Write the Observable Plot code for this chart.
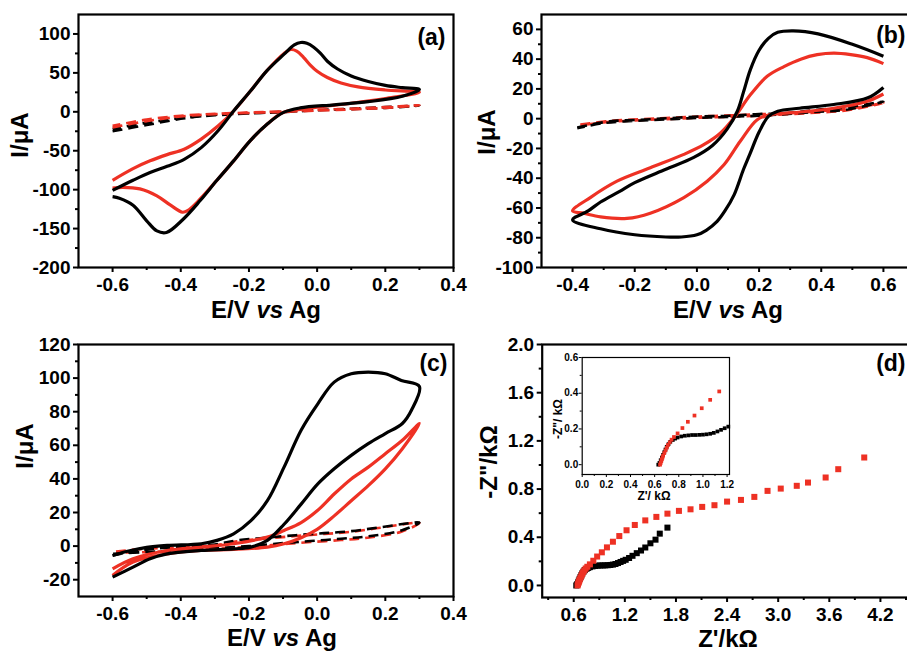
<!DOCTYPE html>
<html><head><meta charset="utf-8">
<script src="https://cdn.jsdelivr.net/npm/d3@7"></script>
<script src="https://cdn.jsdelivr.net/npm/@observablehq/plot@0.6"></script>
<style>
html,body{margin:0;padding:0;background:#fff;}
body{width:907px;height:654px;overflow:hidden;position:relative;font-family:"Liberation Sans",Arial,sans-serif;}
.p{position:absolute;}
</style></head><body>
<div id="pa" class="p" style="left:0;top:0;width:460px;height:320px"></div>
<div id="pb" class="p" style="left:450px;top:0;width:469px;height:320px"></div>
<div id="pc" class="p" style="left:0;top:320px;width:460px;height:334px"></div>
<div id="pd" class="p" style="left:450px;top:320px;width:469px;height:334px"></div>
<div id="pi" class="p" style="left:545px;top:345px;width:189px;height:160px"></div>
<script>
// ---------- DATA: [E (V), I (µA)] ----------
const aBlack = [[-0.6,-101],[-0.54,-88],[-0.49,-78],[-0.44,-70],[-0.39,-61],[-0.34,-46],[-0.29,-24],[-0.245,1],[-0.195,27],[-0.147,53],[-0.097,74],[-0.067,86],[-0.048,89],[-0.03,88],[-0.01,83],[0.01,75],[0.03,65],[0.06,55],[0.1,46],[0.15,39],[0.2,34],[0.25,31],[0.3,28.5],
  [0.25,20],[0.15,13],[0.05,9],[-0.05,5],[-0.1,-1],[-0.147,-16],[-0.196,-37],[-0.245,-63],[-0.294,-88],[-0.343,-114],[-0.393,-138],[-0.442,-155],[-0.47,-153],[-0.5,-140],[-0.54,-120],[-0.58,-111],[-0.6,-109]];
const aRed = [[-0.6,-88],[-0.54,-73],[-0.49,-63],[-0.44,-55],[-0.39,-48],[-0.34,-35],[-0.29,-18],[-0.245,1],[-0.195,27],[-0.147,53],[-0.097,75],[-0.077,80],[-0.06,78],[-0.04,70],[-0.02,60],[0.0,52],[0.03,44],[0.07,37],[0.12,32],[0.2,28],[0.3,25],
  [0.2,17],[0.1,11],[0.0,6],[-0.05,3],[-0.1,-1],[-0.147,-16],[-0.196,-37],[-0.245,-63],[-0.294,-88],[-0.343,-112],[-0.38,-127],[-0.395,-129],[-0.43,-120],[-0.47,-108],[-0.52,-99],[-0.57,-97],[-0.6,-98]];
const aBlackDash = [[-0.6,-25],[-0.5,-17],[-0.4,-9],[-0.3,-4],[-0.2,-2],[-0.1,0],[0.0,2],[0.1,3.5],[0.2,5],[0.3,8],
  [0.2,6],[0.1,4],[0.0,2],[-0.1,-0.5],[-0.2,-2],[-0.3,-4.5],[-0.4,-8],[-0.5,-14],[-0.6,-22]];
const aRedDash = [[-0.6,-20],[-0.5,-12],[-0.4,-6],[-0.3,-3],[-0.2,-1.5],[-0.1,0],[0.0,1.5],[0.1,3],[0.2,5],[0.3,8.5],
  [0.2,6],[0.1,4],[0.0,2.5],[-0.1,0.5],[-0.2,-1],[-0.3,-2.5],[-0.4,-5],[-0.5,-10],[-0.6,-18]];

const bBlack = [[0.6,21],[0.55,14],[0.44,9.5],[0.33,7],[0.26,5],[0.23,1.5],[0.2,-9],[0.17,-24],[0.15,-34],[0.12,-51],[0.09,-62],[0.065,-69],[0.03,-75],[0.0,-78],[-0.05,-79.5],[-0.1,-79.5],[-0.2,-78],[-0.31,-74],[-0.4,-68],
  [-0.35,-62],[-0.31,-56],[-0.25,-49],[-0.2,-43],[-0.1,-34],[-0.01,-26],[0.05,-18],[0.097,-7],[0.13,5],[0.15,18],[0.172,33],[0.2,46],[0.23,54],[0.26,58],[0.31,59],[0.39,57],[0.5,50],[0.6,42]];
const bRed = [[0.6,16.6],[0.548,11.7],[0.44,7],[0.333,4.5],[0.237,2.7],[0.194,-0.7],[0.14,-15],[0.087,-31],[0.033,-42],[-0.042,-53],[-0.15,-63.5],[-0.225,-67],[-0.31,-66],[-0.365,-63.5],[-0.4,-62],
  [-0.343,-53],[-0.257,-42],[-0.15,-33],[-0.042,-24],[0.022,-17.5],[0.076,-9.6],[0.119,0.4],[0.172,16],[0.226,28.5],[0.28,35],[0.334,40],[0.387,43],[0.441,44],[0.495,43],[0.548,41],[0.6,37]];
const bBlackDash = [[-0.385,-5.9],[-0.28,-1.8],[-0.18,-0.7],[-0.085,0.4],[0.01,1.5],[0.108,2],[0.2,3.1],[0.29,3.8],[0.387,6],[0.483,7.6],[0.6,11.5],
  [0.48,6],[0.38,4.5],[0.28,3],[0.2,2],[0.1,1.2],[0.0,0.5],[-0.1,-0.5],[-0.2,-1.5],[-0.3,-3],[-0.385,-6.5]];
const bRedDash = [[-0.375,-4],[-0.28,-1.5],[-0.18,-0.3],[-0.085,0.6],[0.01,1.5],[0.108,2.2],[0.2,3],[0.29,3.5],[0.387,5],[0.483,6.5],[0.6,10.5],
  [0.48,5.5],[0.38,4],[0.28,2.8],[0.2,2],[0.1,1.2],[0.0,0.6],[-0.1,-0.3],[-0.2,-1.2],[-0.3,-2.5],[-0.375,-4.5]];

const cBlack = [[-0.6,-18.5],[-0.54,-12.5],[-0.49,-7.5],[-0.44,-4.6],[-0.34,-2.6],[-0.245,-1.6],[-0.195,-0.6],[-0.146,3.4],[-0.097,13],[-0.047,25],[0.002,37],[0.05,46],[0.1,54],[0.15,61],[0.2,67],[0.25,73],[0.277,81],[0.3,95],
  [0.247,98.6],[0.2,102.6],[0.15,103.6],[0.1,102.6],[0.05,97.6],[0.002,84.7],[-0.047,69],[-0.097,47],[-0.146,27],[-0.195,15],[-0.245,7.3],[-0.294,3.4],[-0.34,1.4],[-0.44,0.4],[-0.5,-0.8],[-0.55,-2.8],[-0.6,-5.6]];
const cRed = [[-0.6,-17.5],[-0.54,-9.5],[-0.44,-4.6],[-0.34,-2.6],[-0.245,-2],[-0.146,-0.6],[-0.097,1.4],[-0.047,5],[0.0,10],[0.05,18],[0.1,27],[0.15,36],[0.2,46],[0.25,58],[0.3,73],
  [0.25,63],[0.2,55],[0.15,47],[0.1,40],[0.05,31],[0.0,21],[-0.047,14],[-0.097,9.3],[-0.146,5.4],[-0.245,1.4],[-0.34,-0.6],[-0.44,-2.6],[-0.54,-7.5],[-0.6,-13.5]];
const cBlackDash = [[-0.6,-5.6],[-0.5,-2],[-0.4,-0.5],[-0.3,1],[-0.235,3.4],[-0.15,5],[-0.063,6.5],[0.02,7.7],[0.1,8.9],[0.188,11.3],[0.3,14],
  [0.247,9.3],[0.148,5.8],[0.07,4.4],[-0.019,3],[-0.098,1.8],[-0.2,0],[-0.3,-1.2],[-0.4,-2.5],[-0.5,-3.5],[-0.6,-4.6]];
const cRedDash = [[-0.59,-3.2],[-0.5,-1.5],[-0.4,-0.8],[-0.3,0.5],[-0.235,2.8],[-0.15,4.5],[-0.063,6],[0.02,7.2],[0.1,8.5],[0.188,11],[0.3,13.8],
  [0.247,8.6],[0.148,5],[0.07,3.6],[-0.019,2.4],[-0.098,1.2],[-0.2,-0.5],[-0.3,-1.6],[-0.4,-2.8],[-0.5,-3.6],[-0.59,-3.8]];

// EIS: [Z' (kΩ), -Z'' (kΩ)]
const dBlack = [[0.63,0.0],[0.64,0.01],[0.65,0.025],[0.66,0.04],[0.67,0.055],[0.68,0.07],[0.69,0.085],[0.70,0.10],[0.715,0.115],[0.73,0.128],[0.75,0.138],[0.77,0.146],[0.79,0.152],[0.82,0.158],[0.85,0.162],[0.88,0.164],[0.91,0.166],[0.94,0.166],[0.97,0.167],[1.0,0.168],[1.03,0.17],[1.06,0.173],[1.09,0.178],[1.12,0.186],[1.15,0.195],[1.18,0.204],[1.21,0.213],[1.25,0.228],[1.29,0.246],[1.34,0.268],[1.39,0.29],[1.44,0.315],[1.50,0.35],[1.56,0.38],[1.61,0.43],[1.70,0.48]];
const dRed = [[0.645,0.0],[0.65,0.01],[0.655,0.02],[0.66,0.03],[0.665,0.04],[0.67,0.05],[0.68,0.065],[0.69,0.08],[0.70,0.095],[0.71,0.11],[0.725,0.125],[0.74,0.14],[0.76,0.155],[0.79,0.175],[0.83,0.205],[0.875,0.24],[0.93,0.275],[0.99,0.316],[1.06,0.363],[1.135,0.41],[1.22,0.458],[1.317,0.502],[1.44,0.54],[1.57,0.569],[1.70,0.596],[1.835,0.619],[1.971,0.632],[2.108,0.652],[2.252,0.666],[2.4,0.696],[2.563,0.71],[2.72,0.735],[2.875,0.785],[3.03,0.804],[3.218,0.827],[3.35,0.854],[3.557,0.896],[3.705,0.965],[4.01,1.062]];

// ---------- TICKS ----------
const cvXMajor = [-0.6,-0.4,-0.2,0.0,0.2,0.4];
const cvXMinor = [-0.5,-0.3,-0.1,0.1,0.3];
const aYMajor = [-200,-150,-100,-50,0,50,100];
const aYMinor = [-175,-125,-75,-25,25,75];
const bXMajor = [-0.4,-0.2,0.0,0.2,0.4,0.6];
const bXMinor = [-0.3,-0.1,0.1,0.3,0.5];
const bYMajor = [-100,-80,-60,-40,-20,0,20,40,60];
const bYMinor = [-90,-70,-50,-30,-10,10,30,50];
const cYMajor = [-20,0,20,40,60,80,100,120];
const cYMinor = [-10,10,30,50,70,90,110];
const dXMajor = [0.6,1.2,1.8,2.4,3.0,3.6,4.2];
const dXMinor = [0.3,0.9,1.5,2.1,2.7,3.3,3.9,4.5];
const dYMajor = [0.0,0.4,0.8,1.2,1.6,2.0];
const dYMinor = [0.2,0.6,1.0,1.4,1.8];
const iXMajor = [0.0,0.2,0.4,0.6,0.8,1.0,1.2];
const iXMinor = [0.1,0.3,0.5,0.7,0.9,1.1];
const iYMajor = [0.0,0.2,0.4,0.6];
const iYMinor = [0.1,0.3,0.5];

const RED = "#ee3124";
const FONT = "'Liberation Sans', Arial, sans-serif";
const f1 = d => d.toFixed(1);
const fi = d => String(d);

function axes(c, big) {
  const sw = big ? 2 : 1;
  return [
    Plot.axisX({anchor:"bottom", ticks:c.xMinor, tickSize: big?3:2, tickFormat:()=>"", strokeWidth:sw}),
    Plot.axisX({anchor:"bottom", ticks:c.xMajor, tickSize: big?5:3, tickPadding: big?5:3, tickFormat:c.xFmt, strokeWidth:sw}),
    Plot.axisY({anchor:"left", ticks:c.yMinor, tickSize: big?3:2, tickFormat:()=>"", strokeWidth:sw}),
    Plot.axisY({anchor:"left", ticks:c.yMajor, tickSize: big?5:3, tickPadding: big?3:1, tickFormat:c.yFmt, strokeWidth:sw})
  ];
}

function addText(svg, x, y, parts, size, rot) {
  const t = d3.select(svg).append("text")
    .attr("transform", `translate(${x},${y})` + (rot ? " rotate(-90)" : ""))
    .attr("text-anchor","middle").attr("font-size",size).attr("font-weight","bold")
    .attr("font-family",FONT).attr("fill","black");
  parts.forEach(p => t.append("tspan").attr("font-style", p[1] ? "italic" : null).text(p[0]));
}

function panel(c) {
  const marks = [...axes(c, true)];
  (c.lines||[]).forEach(s => marks.push(Plot.line(s.data, {x:d=>d[0], y:d=>d[1], stroke:s.color,
    strokeWidth: s.dash ? 2.6 : 3.2, strokeDasharray: s.dash ? "10,6" : undefined, curve:"catmull-rom", strokeLinecap:"butt"})));
  (c.dots||[]).forEach(s => marks.push(Plot.dot(s.data, {x:d=>d[0], y:d=>d[1], symbol:"square", r:3.4, fill:s.color, stroke:null})));
  marks.push(Plot.frame({strokeWidth:2.2}));
  marks.push(Plot.text([c.tag], {text:d=>d, frameAnchor:"top-right", textAnchor:"end", lineAnchor:"middle", dx:c.tagDx, dy:c.tagDy, fontSize:23, fontWeight:"bold"}));
  const svg = Plot.plot({
    width:c.width, height:c.height, marginLeft:c.ml, marginTop:c.mt, marginRight:c.mr, marginBottom:c.mb,
    x:{domain:c.xd, axis:null}, y:{domain:c.yd, axis:null},
    style:{fontFamily:FONT, fontSize:"19px", fontWeight:"bold", color:"black", background:"transparent", maxWidth:"none", overflow:"visible"},
    marks
  });
  addText(svg, c.xl[0], c.xl[1], c.xlText, 24, false);
  addText(svg, c.yl[0], c.yl[1], c.ylText, 24, true);
  document.getElementById(c.el).appendChild(svg);
}

const EV = [["E/V "],["vs",true],[" Ag"]];
const IA = [["I/\u03BCA"]];

panel({el:"pa", width:460, height:320, ml:78, mt:14, mr:7, mb:53, xd:[-0.7,0.4], yd:[-200,125],
  xMajor:cvXMajor, xMinor:cvXMinor, yMajor:aYMajor, yMinor:aYMinor, xFmt:f1, yFmt:fi,
  lines:[{data:aBlackDash,color:"black",dash:true},{data:aRedDash,color:RED,dash:true},{data:aRed,color:RED},{data:aBlack,color:"black"}],
  tag:"(a)", tagDx:-8, tagDy:23, xl:[266,318], xlText:EV, yl:[28,135], ylText:IA});

panel({el:"pb", width:469, height:320, ml:91, mt:14, mr:5, mb:53, xd:[-0.5,0.7], yd:[-100,70],
  xMajor:bXMajor, xMinor:bXMinor, yMajor:bYMajor, yMinor:bYMinor, xFmt:f1, yFmt:fi,
  lines:[{data:bRedDash,color:RED,dash:true},{data:bBlackDash,color:"black",dash:true},{data:bRed,color:RED},{data:bBlack,color:"black"}],
  tag:"(b)", tagDx:-9, tagDy:21, xl:[278,318], xlText:EV, yl:[45,132], ylText:IA});

panel({el:"pc", width:460, height:334, ml:78, mt:24, mr:7, mb:58, xd:[-0.7,0.4], yd:[-30,120],
  xMajor:cvXMajor, xMinor:cvXMinor, yMajor:cYMajor, yMinor:cYMinor, xFmt:f1, yFmt:fi,
  lines:[{data:cRedDash,color:RED,dash:true},{data:cBlackDash,color:"black",dash:true},{data:cRed,color:RED},{data:cBlack,color:"black"}],
  tag:"(c)", tagDx:-6, tagDy:19, xl:[282,326], xlText:EV, yl:[33,126], ylText:IA});

panel({el:"pd", width:469, height:334, ml:91.7, mt:24, mr:5, mb:57, xd:[0.23,4.6], yd:[-0.1,2.0],
  xMajor:dXMajor, xMinor:dXMinor, yMajor:dYMajor, yMinor:dYMinor, xFmt:f1, yFmt:f1,
  dots:[{data:dBlack,color:"black"},{data:dRed,color:RED}],
  tag:"(d)", tagDx:-9, tagDy:19, xl:[278,327], xlText:[["Z'/k\u03A9"]], yl:[47,142], ylText:[['-Z"/k\u03A9']]});

// inset
(function(){
  const c = {xMajor:iXMajor, xMinor:iXMinor, yMajor:iYMajor, yMinor:iYMinor, xFmt:f1, yFmt:f1};
  const xmax = 1.22;
  const svg = Plot.plot({
    width:189, height:160, marginLeft:36.7, marginTop:12, marginRight:5, marginBottom:31,
    x:{domain:[0,xmax], axis:null}, y:{domain:[-0.055,0.6], axis:null},
    style:{fontFamily:FONT, fontSize:"10px", fontWeight:"bold", color:"black", background:"transparent", maxWidth:"none", overflow:"visible"},
    marks:[
      ...axes(c, false),
      Plot.dot(dBlack.filter(d=>d[0]<=xmax), {x:d=>d[0], y:d=>d[1], symbol:"square", r:2.1, fill:"black"}),
      Plot.dot(dRed.filter(d=>d[0]<1.2), {x:d=>d[0], y:d=>d[1], symbol:"square", r:2.1, fill:RED}),
      Plot.frame({strokeWidth:1.2})
    ]
  });
  addText(svg, 109, 155, [["Z'/ k\u03A9"]], 12, false);
  addText(svg, 17, 74, [['-Z"/ k\u03A9']], 12, true);
  document.getElementById("pi").appendChild(svg);
})();
</script>
</body></html>
